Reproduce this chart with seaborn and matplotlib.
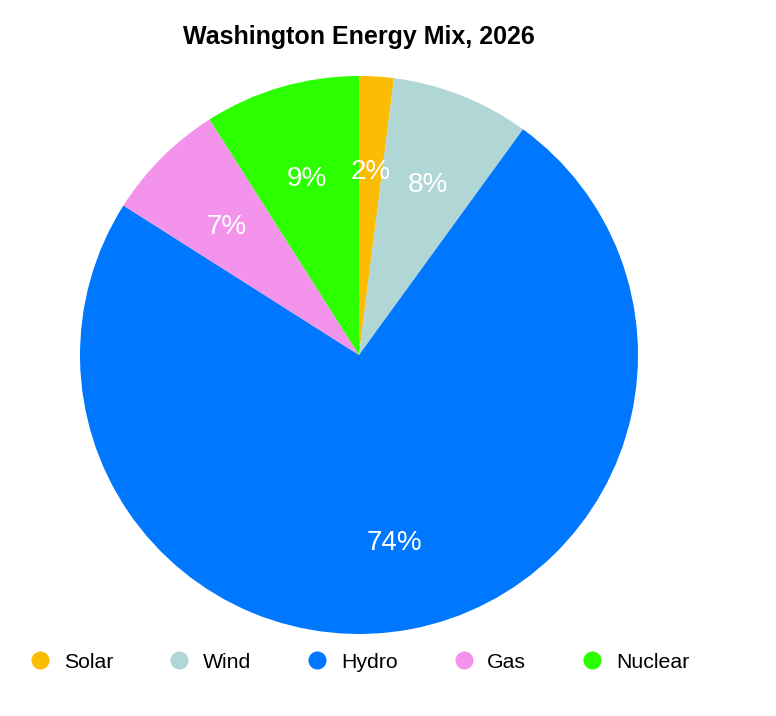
import matplotlib
matplotlib.use("Agg")
import matplotlib.pyplot as plt
from matplotlib.lines import Line2D
import seaborn as sns

# data
sources = ["Solar", "Wind", "Hydro", "Gas", "Nuclear"]
shares = [2, 8, 74, 7, 9]
colors = ["#fbbc04", "#b0d6d6", "#0077ff", "#f393ec", "#2bff00"]

sns.set_theme(style="white")
plt.rcParams["font.family"] = ["Liberation Sans", "DejaVu Sans"]

W, H = 776, 716
fig = plt.figure(figsize=(W / 100, H / 100), dpi=100)

# pie: center (359, 355), radius 279 px
cx, cy, r = 359, 355, 279
ax = fig.add_axes([(cx - r) / W, (H - cy - r) / H, 2 * r / W, 2 * r / H])
wedges, texts, autotexts = ax.pie(
    shares, colors=colors, startangle=90, counterclock=False,
    autopct=lambda p: f"{p:.0f}%", pctdistance=0.67,
    wedgeprops=dict(linewidth=0),
    textprops=dict(color="white", fontsize=20),
)
# nudge labels down a little so the digits sit where the reference has them
for t in autotexts:
    x, y = t.get_position()
    t.set_position((x, y - 4 / r))
ax.set_xlim(-1, 1)
ax.set_ylim(-1, 1)
ax.set_aspect("equal")
ax.axis("off")

fig.text(cx / W, 1 - 37 / H, "Washington Energy Mix, 2026",
         ha="center", va="center", fontsize=18, fontweight="bold", color="black")

handles = [Line2D([], [], marker="o", linestyle="", markersize=13,
                  markerfacecolor=c, markeredgewidth=0) for c in colors]
leg = fig.legend(handles, sources, loc="center left",
                 bbox_to_anchor=(29.6 / W, 1 - 662 / H), ncol=5, frameon=False,
                 fontsize=15.3, handlelength=1.0, handletextpad=0.62,
                 columnspacing=2.6, borderpad=0, borderaxespad=0)
for t in leg.get_texts():
    t.set_color("black")

fig.savefig("out.png", dpi=100, facecolor="white")
